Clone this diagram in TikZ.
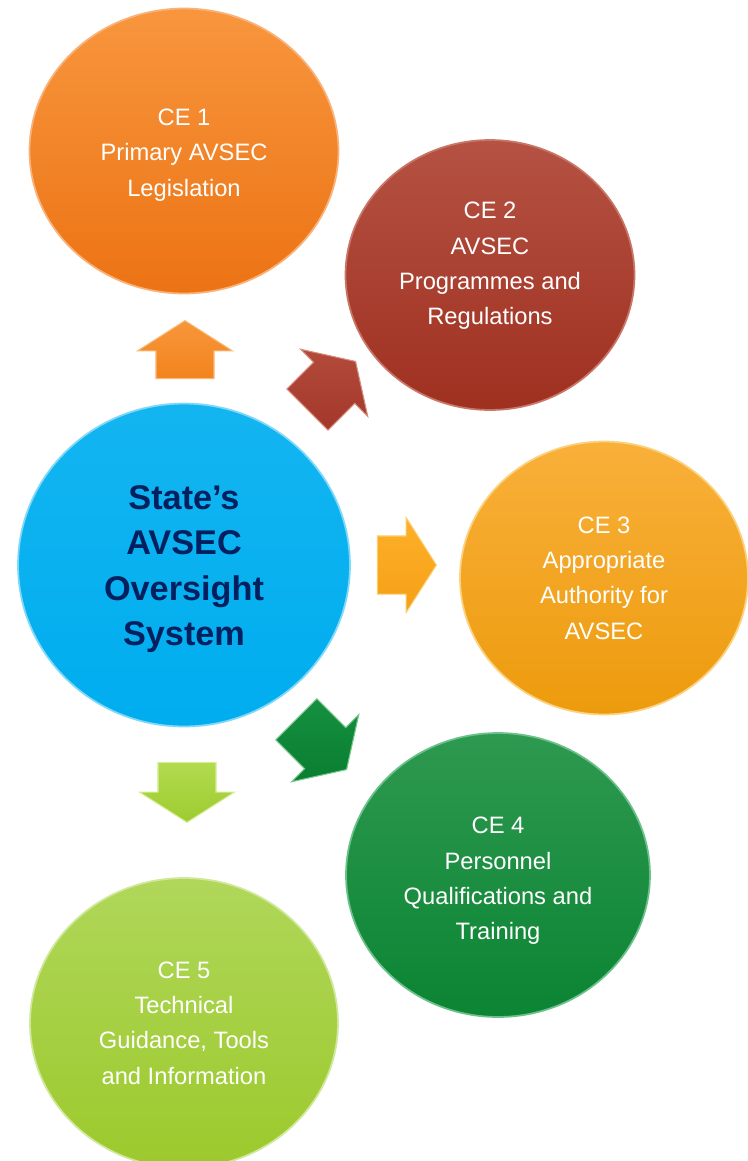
\documentclass[tikz,border=0pt]{standalone}
\usepackage{fontspec}
\setmainfont{Liberation Sans}
\usetikzlibrary{shapes.geometric, shapes.arrows}

\definecolor{navytext}{HTML}{002060}

\begin{document}
\begin{tikzpicture}[x=0.02cm, y=-0.02cm,
  ce/.style={shape=ellipse, inner sep=0pt, line width=1pt},
  cetext/.style={align=center, text=white, inner sep=0pt, font=\fontsize{13.5}{20.1}\selectfont},
  blockarrow/.style={shape=single arrow, inner xsep=0pt, inner ysep=0.57cm, single arrow head extend=0.37cm, single arrow tip angle=115, anchor=tip, line width=0.6pt}]
\useasboundingbox (0,0) rectangle (748,1161);
% circles
\node[ce, minimum width=6.18cm, minimum height=5.7cm, top color={rgb,255:red,248;green,150;blue,62}, bottom color={rgb,255:red,236;green,115;blue,20}, draw={rgb,255:red,249;green,178;blue,122}, label={[cetext, yshift=-2.3pt]center:{CE 1\\Primary AVSEC\\Legislation}}] (ce1) at (184,151) {};
\node[ce, minimum width=5.78cm, minimum height=5.4cm, top color={rgb,255:red,181;green,82;blue,67}, bottom color={rgb,255:red,159;green,48;blue,32}, draw={rgb,255:red,200;green,118;blue,104}, label={[cetext, yshift=5.1pt]center:{CE 2\\AVSEC\\Programmes and\\Regulations}}] (ce2) at (490,275) {};
\node[ce, minimum width=5.76cm, minimum height=5.46cm, top color={rgb,255:red,249;green,176;blue,58}, bottom color={rgb,255:red,237;green,155;blue,13}, draw={rgb,255:red,251;green,210;blue,127}, label={[cetext]center:{CE 3\\Appropriate\\Authority for\\AVSEC}}] (ce3) at (604,578) {};
\node[ce, minimum width=6.08cm, minimum height=5.68cm, top color={rgb,255:red,46;green,153;blue,80}, bottom color={rgb,255:red,11;green,132;blue,51}, draw={rgb,255:red,108;green,192;blue,138}, label={[cetext, yshift=-3.4pt]center:{CE 4\\Personnel\\Qualifications and\\Training}}] (ce4) at (498,875) {};
\node[ce, minimum width=6.16cm, minimum height=5.8cm, top color={rgb,255:red,176;green,215;blue,90}, bottom color={rgb,255:red,156;green,201;blue,44}, draw={rgb,255:red,207;green,232;blue,154}, label={[cetext]center:{CE 5\\Technical\\Guidance, Tools\\and Information}}] (ce5) at (184,1023) {};
\node[ce, minimum width=6.64cm, minimum height=6.46cm, top color={rgb,255:red,19;green,181;blue,240}, bottom color={rgb,255:red,0;green,173;blue,239}, draw={rgb,255:red,127;green,216;blue,248}, label={[cetext, yshift=-2.3pt, text=navytext, font=\fontsize{19.5}{25.8}\selectfont\bfseries]center:{State’s\\AVSEC\\Oversight\\System}}] (core) at (184,565) {};
% arrows
\node[blockarrow, rotate=90, minimum height=1.16cm, top color={rgb,255:red,248;green,150;blue,58}, bottom color={rgb,255:red,242;green,132;blue,29}, draw={rgb,255:red,250;green,185;blue,120}] (toce1) at (185,320) {};
\node[blockarrow, rotate=45, minimum height=1.36cm, top color={rgb,255:red,179;green,74;blue,58}, bottom color={rgb,255:red,163;green,56;blue,42}, draw={rgb,255:red,214;green,140;blue,126}] (toce2) at (356,361) {};
\node[blockarrow, rotate=0, minimum height=1.18cm, top color={rgb,255:red,253;green,176;blue,42}, bottom color={rgb,255:red,245;green,160;blue,21}, draw={rgb,255:red,253;green,206;blue,110}] (toce3) at (437,565) {};
\node[blockarrow, rotate=-45, minimum height=1.42cm, top color={rgb,255:red,21;green,144;blue,64}, bottom color={rgb,255:red,10;green,126;blue,48}, draw={rgb,255:red,120;green,200;blue,140}] (toce4) at (347,770) {};
\node[blockarrow, rotate=-90, minimum height=1.2cm, top color={rgb,255:red,178;green,219;blue,78}, bottom color={rgb,255:red,158;green,203;blue,48}, draw={rgb,255:red,214;green,238;blue,150}] (toce5) at (187,823) {};
\end{tikzpicture}
\end{document}
